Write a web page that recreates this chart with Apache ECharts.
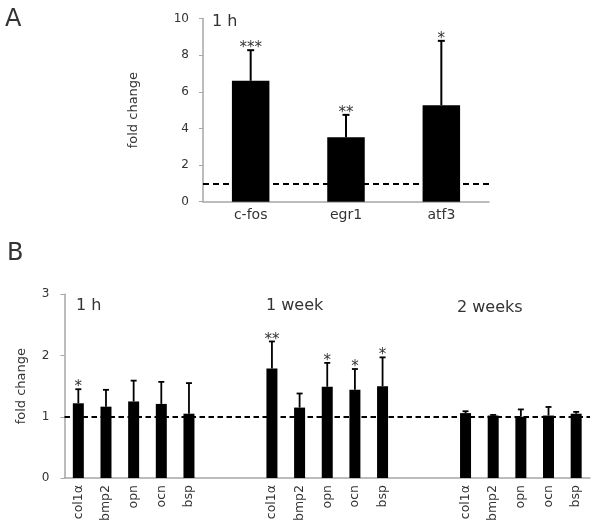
<!DOCTYPE html>
<html>
<head>
<meta charset="utf-8">
<style>
html,body{margin:0;padding:0;background:#fff;}
#chart{width:600px;height:530px;}
</style>
<script src="https://cdn.jsdelivr.net/npm/echarts@6/dist/echarts.min.js"></script>
</head>
<body>
<div id="chart"></div>
<script>
// ---- Panel A data ----
var catsA = ['c-fos', 'egr1', 'atf3'];
var meanA = [6.6, 3.52, 5.27];
var sdA = [1.67, 1.22, 3.51];
var starsA = ['***', '**', '*'];
var ticksA = [0, 2, 4, 6, 8, 10];

// ---- Panel B data ----
var groupsB = ['1 h', '1 week', '2 weeks'];
var genesB = ['col1α', 'bmp2', 'opn', 'ocn', 'bsp'];
var meanB1h = [1.22, 1.165, 1.25, 1.21, 1.05];
var sdB1h = [0.23, 0.275, 0.34, 0.36, 0.50];
var meanB1w = [1.79, 1.15, 1.49, 1.44, 1.50];
var sdB1w = [0.44, 0.23, 0.39, 0.34, 0.47];
var meanB2w = [1.06, 1.02, 1.00, 1.02, 1.05];
var sdB2w = [0.03, 0.01, 0.12, 0.14, 0.03];
var starsB1h = ['*', '', '', '', ''];
var starsB1w = ['**', '', '*', '*', '*'];
var starsB2w = ['', '', '', '', ''];
var ticksB = [0, 1, 2, 3];
var baseline = 1;

var FONT = 'DejaVu Sans';
var AXIS_GRAY = '#a6a6a6';
var TEXT = '#333333';

// build panel B category layout: 5 genes, 2 gaps, 5 genes, 2 gaps, 5 genes
var gapB = ['', ''];
var catsB = [];
var meanB = [], sdB = [], starsB = [];
var blocks = [[meanB1h, sdB1h, starsB1h], [meanB1w, sdB1w, starsB1w], [meanB2w, sdB2w, starsB2w]];
blocks.forEach(function (b, gi) {
  genesB.forEach(function (g, i) {
    catsB.push(g); meanB.push(b[0][i]); sdB.push(b[1][i]); starsB.push(b[2][i]);
  });
  if (gi < blocks.length - 1) {
    gapB.forEach(function (g) { catsB.push(g); meanB.push('-'); sdB.push(null); starsB.push(''); });
  }
});

var errDataA = meanA.map(function (m, i) { return [i, m, m + sdA[i]]; });
var errDataB = [];
meanB.forEach(function (m, i) { if (m !== '-') errDataB.push([i, m, m + sdB[i], i]); });

function makeErr(stars, cap, lw, starSize) {
  return function (params, api) {
    var x = api.value(0), m = api.value(1), u = api.value(2);
    var p0 = api.coord([x, m]);
    var p1 = api.coord([x, u]);
    var idx = Math.round(x);
    var st = stars[idx] || '';
    var children = [
      { type: 'line', shape: { x1: p0[0], y1: p0[1], x2: p1[0], y2: p1[1] }, style: { stroke: '#000', lineWidth: lw } },
      { type: 'line', shape: { x1: p1[0] - cap, y1: p1[1], x2: p1[0] + cap, y2: p1[1] }, style: { stroke: '#000', lineWidth: lw } }
    ];
    if (st) {
      children.push({ type: 'text', style: { text: st, x: p1[0], y: p1[1] + starSize * 0.38, align: 'center', verticalAlign: 'bottom', font: starSize + 'px "' + FONT + '"', fill: TEXT } });
    }
    return { type: 'group', children: children };
  };
}

var chart = echarts.init(document.getElementById('chart'), null, { renderer: 'canvas' });
var option = {
  animation: false,
  backgroundColor: '#fff',
  grid: [
    { left: 203, top: 18.5, width: 286, height: 183.2, containLabel: false },
    { left: 64.5, top: 294.3, width: 525.5, height: 183.7, containLabel: false }
  ],
  xAxis: [
    {
      gridIndex: 0, type: 'category', data: catsA, boundaryGap: true,
      axisLine: { lineStyle: { color: AXIS_GRAY, width: 1.5 } },
      axisTick: { show: false },
      axisLabel: { color: TEXT, fontFamily: FONT, fontSize: 14, margin: 7 }
    },
    {
      gridIndex: 1, type: 'category', data: catsB, boundaryGap: true,
      axisLine: { lineStyle: { color: AXIS_GRAY, width: 1.5 } },
      axisTick: { show: false },
      axisLabel: { color: TEXT, fontFamily: FONT, fontSize: 12.5, rotate: 90, interval: 0, margin: 7 }
    }
  ],
  yAxis: [
    {
      gridIndex: 0, type: 'value', min: ticksA[0], max: ticksA[ticksA.length - 1], interval: 2,
      name: 'fold change', nameLocation: 'middle', nameRotate: 90, nameGap: 63,
      nameTextStyle: { color: TEXT, fontFamily: FONT, fontSize: 13 },
      axisLine: { show: true, lineStyle: { color: AXIS_GRAY, width: 1.5 } },
      axisTick: { show: true, length: 4, lineStyle: { color: AXIS_GRAY } },
      splitLine: { show: false },
      axisLabel: { color: TEXT, fontFamily: FONT, fontSize: 12, margin: 14 }
    },
    {
      gridIndex: 1, type: 'value', min: ticksB[0], max: ticksB[ticksB.length - 1], interval: 1,
      name: 'fold change', nameLocation: 'middle', nameRotate: 90, nameGap: 36,
      nameTextStyle: { color: TEXT, fontFamily: FONT, fontSize: 13 },
      axisLine: { show: true, lineStyle: { color: AXIS_GRAY, width: 1.5 } },
      axisTick: { show: true, length: 4, lineStyle: { color: AXIS_GRAY } },
      splitLine: { show: false },
      axisLabel: { color: TEXT, fontFamily: FONT, fontSize: 12, margin: 15 }
    }
  ],
  series: [
    {
      type: 'bar', xAxisIndex: 0, yAxisIndex: 0, data: meanA, barWidth: 37.5,
      itemStyle: { color: '#000' },
      markLine: {
        silent: true, symbol: 'none', label: { show: false },
        lineStyle: { color: '#000', type: [6, 4], width: 2 },
        data: [{ yAxis: baseline }]
      },
      z: 2
    },
    {
      type: 'custom', xAxisIndex: 0, yAxisIndex: 0, data: errDataA,
      encode: { x: 0, y: [1, 2] },
      renderItem: makeErr(starsA, 3.5, 2, 15), z: 3
    },
    {
      type: 'bar', xAxisIndex: 1, yAxisIndex: 1, data: meanB, barWidth: 11,
      itemStyle: { color: '#000' },
      markLine: {
        silent: true, symbol: 'none', label: { show: false },
        lineStyle: { color: '#000', type: [5.5, 3.5], width: 2 },
        data: [{ yAxis: baseline }]
      },
      z: 2
    },
    {
      type: 'custom', xAxisIndex: 1, yAxisIndex: 1, data: errDataB,
      encode: { x: 0, y: [1, 2] },
      renderItem: makeErr(starsB, 3, 1.8, 15), z: 3
    }
  ],
  graphic: [
    { type: 'text', left: 5, top: 8, style: { text: 'A', font: '24px "' + FONT + '"', fill: TEXT } },
    { type: 'text', left: 7, top: 242, style: { text: 'B', font: '24px "' + FONT + '"', fill: TEXT } },
    { type: 'text', left: 212, top: 14, style: { text: '1 h', font: '16px "' + FONT + '"', fill: TEXT } },
    { type: 'text', left: 76, top: 298, style: { text: groupsB[0], font: '16px "' + FONT + '"', fill: TEXT } },
    { type: 'text', left: 266, top: 298, style: { text: groupsB[1], font: '16px "' + FONT + '"', fill: TEXT } },
    { type: 'text', left: 457, top: 300, style: { text: groupsB[2], font: '16px "' + FONT + '"', fill: TEXT } }
  ]
};
chart.setOption(option);
</script>
</body>
</html>
